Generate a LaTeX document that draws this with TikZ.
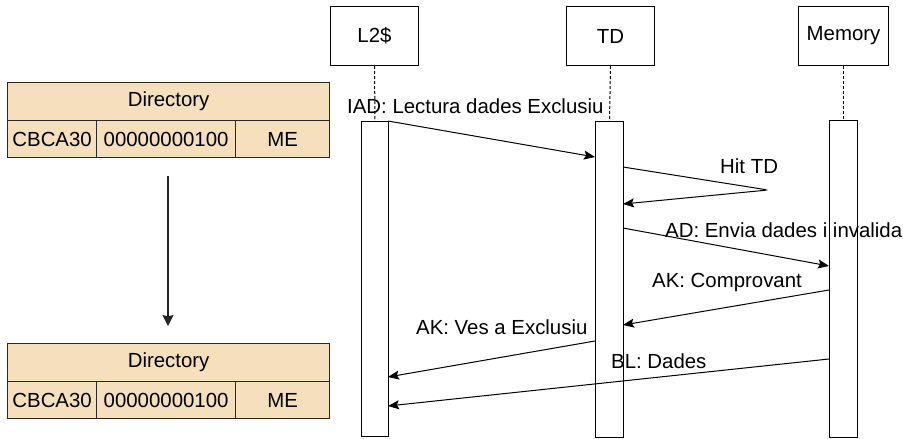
\documentclass[tikz,border=0pt]{standalone}
\usepackage{fontspec}
\setmainfont{Liberation Sans}
\usetikzlibrary{arrows.meta}
\definecolor{wheatfill}{RGB}{245,223,188}
\definecolor{tblborder}{RGB}{40,40,40}
\begin{document}
\begin{tikzpicture}[x=1pt,y=-1pt,
  txt/.style={font=\fontsize{20.4}{24}\selectfont},
  cell/.style={draw=tblborder,line width=1.2pt,fill=wheatfill,inner sep=0pt,anchor=north west,txt},
  headbox/.style={draw=black,line width=1pt,fill=white,inner sep=0pt,anchor=north west,minimum width=88pt,minimum height=59pt,txt},
  actbox/.style={draw=black,line width=1pt,fill=white,inner sep=0pt,anchor=north west,minimum width=27pt},
  life/.style={draw=black,line width=1pt,dash pattern=on 3pt off 2pt},
  msg/.style={draw=black,line width=1pt,-{Stealth[length=11pt,width=9pt,inset=2pt]}},
  lbl/.style={txt,inner sep=0pt,anchor=base west}]
\useasboundingbox (0,0) rectangle (903,439);
% tables
\node[cell,minimum width=322pt,minimum height=38pt] (t1h) at (7,82) {Directory};
\node[cell,minimum width=89pt,minimum height=37pt] (t1a) at (7,120) {CBCA30};
\node[cell,minimum width=139pt,minimum height=37pt] (t1b) at (96,120) {00000000100};
\node[cell,minimum width=94pt,minimum height=37pt] (t1c) at (235,120) {ME};
\node[cell,minimum width=322pt,minimum height=38pt] (t2h) at (7,343) {Directory};
\node[cell,minimum width=89pt,minimum height=37pt] (t2a) at (7,381) {CBCA30};
\node[cell,minimum width=139pt,minimum height=37pt] (t2b) at (96,381) {00000000100};
\node[cell,minimum width=94pt,minimum height=37pt] (t2c) at (235,381) {ME};
\coordinate (va) at (168,176);
\coordinate (vb) at (168,326);
\draw[draw=black!85,line width=1.2pt,-{Stealth[length=11pt,width=11pt,inset=1.5pt]}] (va) -- (vb);
% lifeline heads
\node[headbox] (l2) at (330,6) {L2\$};
\node[headbox] (td) at (566,6) {TD};
\node[headbox,minimum width=90pt] (mem) at (798,6) {Memory};
% activations
\node[actbox,minimum height=315pt] (l2act) at (361,121) {};
\node[actbox,minimum width=28pt,minimum height=316pt] (tdact) at (595,121) {};
\node[actbox,minimum width=28pt,minimum height=317pt] (memact) at (829,120) {};
\draw[life] (l2.south) -- (l2act.north);
\draw[life] (td.south) -- (tdact.north);
\draw[life] (mem.south) -- (memact.north);
% message endpoints
\coordinate (m1s) at (388,121);
\coordinate (m1e) at (595,157);
\coordinate (m2s) at (623,167);
\coordinate (m2t) at (768,190);
\coordinate (m2e) at (623,204);
\coordinate (m3s) at (623,228);
\coordinate (m3e) at (829,266);
\coordinate (m4s) at (829,290);
\coordinate (m4e) at (623,325);
\coordinate (m5s) at (595,341);
\coordinate (m5e) at (388,377);
\coordinate (m6s) at (829,359);
\coordinate (m6e) at (388,406);
\draw[msg] (m1s) -- (m1e);
\draw[msg,rounded corners=3pt] (m2s) -- (m2t) -- (m2e);
\draw[msg] (m3s) -- (m3e);
\draw[msg] (m4s) -- (m4e);
\draw[msg] (m5s) -- (m5e);
\draw[msg] (m6s) -- (m6e);
% labels
\node[lbl] (lb1) at (347,113) {IAD: Lectura dades Exclusiu};
\node[lbl] (lb2) at (720,173) {Hit TD};
\node[lbl] (lb3) at (665,237) {AD: Envia dades i invalida};
\node[lbl] (lb4) at (652,287) {AK: Comprovant};
\node[lbl] (lb5) at (416,334) {AK: Ves a Exclusiu};
\node[lbl] (lb6) at (611,368) {BL: Dades};
\end{tikzpicture}
\end{document}
